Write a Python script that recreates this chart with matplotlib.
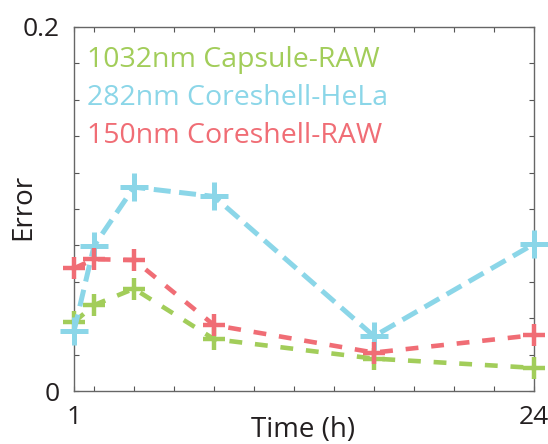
import matplotlib
matplotlib.use("Agg")
import matplotlib.pyplot as plt

plt.rcParams['font.family'] = ['Open Sans', 'DejaVu Sans']

time_h = [1, 2, 4, 8, 16, 24]
capsule_raw = [0.0378, 0.0472, 0.0562, 0.0285, 0.0178, 0.0127]
coreshell_hela = [0.0329, 0.0797, 0.1120, 0.1069, 0.0301, 0.0808]
coreshell_raw = [0.0674, 0.0724, 0.0720, 0.0362, 0.0211, 0.0307]
series_labels = ["1032nm Capsule-RAW", "282nm Coreshell-HeLa", "150nm Coreshell-RAW"]
colors = ["#a2cd5a", "#8bd6e8", "#f06d75"]
xtick_pos = [1, 2, 4, 6, 8, 10, 12, 14, 16, 18, 20, 22, 24]
xtick_labels = ["1", "", "", "", "", "", "", "", "", "", "", "", "24"]
ytick_pos = [0, 0.02, 0.04, 0.06, 0.08, 0.10, 0.12, 0.14, 0.16, 0.18, 0.2]
ytick_labels = ["0", "", "", "", "", "", "", "", "", "", "0.2"]

W, H = 548, 444
fig = plt.figure(figsize=(W / 100, H / 100), dpi=100)
ax = fig.add_axes([74 / W, (H - 391) / H, 460 / W, 364 / H])

styles = [
    dict(lw=3.3, ls=(0, (2.8, 2.8)), ms=16, mew=3.2),
    dict(lw=3.6, ls=(0, (3.4, 1.7)), ms=19.5, mew=3.6),
    dict(lw=3.3, ls=(0, (2.8, 2.8)), ms=16, mew=3.2),
]
for ys, c, st in zip([capsule_raw, coreshell_hela, coreshell_raw], colors, styles):
    ax.plot(time_h, ys, color=c, marker='+', clip_on=False, zorder=3, **st)

ax.set_xlim(1, 24)
ax.set_ylim(0, 0.2)
ax.set_xticks(xtick_pos)
ax.set_xticklabels(xtick_labels)
ax.set_yticks(ytick_pos)
ax.set_yticklabels(ytick_labels)
ax.tick_params(direction='in', length=3.6, width=0.8, color='#555555',
               top=True, right=True, labelsize=19, pad=10, labelcolor='#231f20')
for s in ax.spines.values():
    s.set_color('#666666')
    s.set_linewidth(1.0)

ax.set_xlabel("Time (h)", fontsize=20, color='#231f20')
ax.xaxis.set_label_coords(303.5 / W, (H - 437) / H, transform=fig.transFigure)
ax.xaxis.label.set_va('baseline')
ax.set_ylabel("Error", fontsize=20, color='#231f20')
ax.yaxis.set_label_coords(23.5 / W, (H - 207) / H, transform=fig.transFigure)
ax.yaxis.label.set_va('center')
ax.yaxis.label.set_ha('center')

baselines = [0.890, 0.786, 0.681]
for lab, c, yb in zip(series_labels, colors, baselines):
    ax.text(13 / 460, yb, lab, color=c, fontsize=20.5,
            transform=ax.transAxes, va='baseline', ha='left')

fig.savefig("out.png", dpi=100)
